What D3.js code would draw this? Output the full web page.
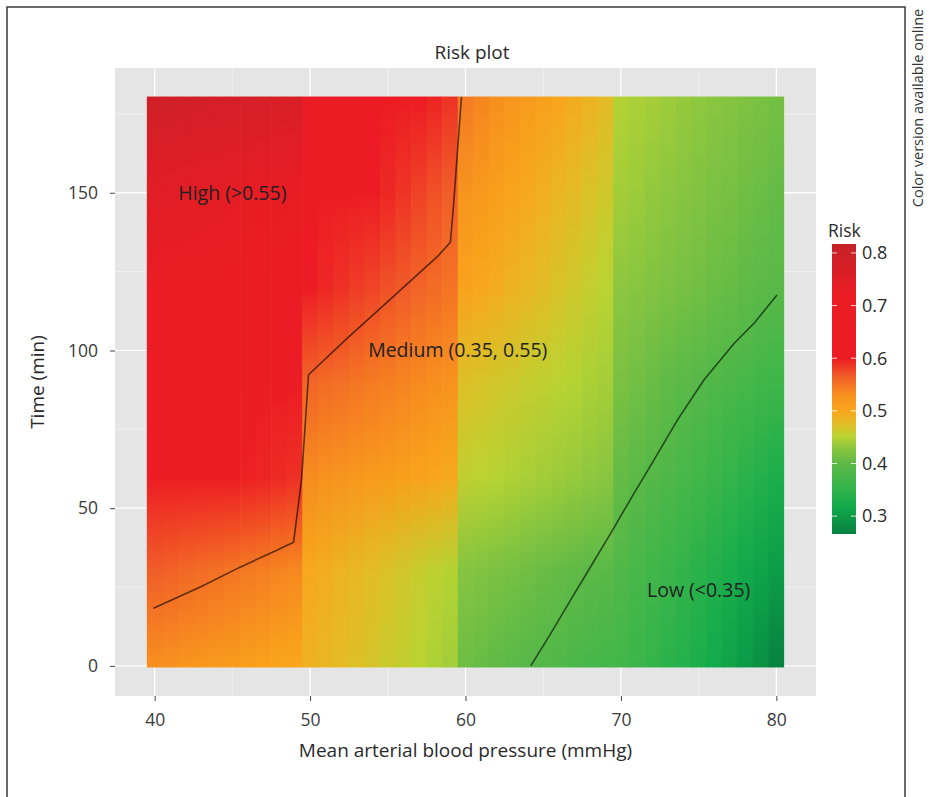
<!DOCTYPE html>
<html>
<head>
<meta charset="utf-8">
<script src="https://cdn.jsdelivr.net/npm/d3@7"></script>
<style>
  body { margin: 0; background: #fff; }
  svg text { font-family: "Open Sans", sans-serif; }
</style>
</head>
<body>
<div id="chart"></div>
<script>
// mean arterial pressure grid (mmHg), one tile column each
let mapValues = [40, 41, 42, 43, 44, 45, 46, 47, 48, 49,
  50, 51, 52, 53, 54, 55, 56, 57, 58, 59,
  60, 61, 62, 63, 64, 65, 66, 67, 68, 69,
  70, 71, 72, 73, 74, 75, 76, 77, 78, 79, 80];
let timeKnots = [0, 30, 60, 90, 120, 150, 180];

// risk per column, one array per time
let riskT0 = [.530, .527, .523, .520, .517, .513, .510, .507, .503, .500,
  .488, .483, .477, .472, .467, .461, .456, .451, .445, .440,
  .410, .406, .402, .397, .393, .389, .385, .380, .376, .372,
  .370, .362, .354, .346, .338, .330, .320, .310, .298, .285, .270];
let riskT30 = [.565, .562, .558, .555, .552, .548, .545, .542, .538, .535,
  .497, .492, .486, .481, .475, .470, .464, .459, .453, .448,
  .425, .422, .418, .415, .412, .408, .405, .402, .398, .395,
  .385, .377, .369, .361, .353, .345, .336, .327, .318, .309, .300];
let riskT60 = [.615, .612, .609, .607, .604, .601, .598, .596, .593, .590,
  .533, .529, .525, .521, .517, .513, .509, .505, .501, .497,
  .455, .452, .449, .446, .443, .440, .437, .434, .431, .428,
  .405, .398, .391, .384, .377, .370, .362, .354, .346, .338, .330];
let riskT90 = [.660, .657, .654, .652, .649, .646, .643, .641, .638, .635,
  .560, .556, .553, .549, .545, .542, .538, .534, .531, .527,
  .472, .469, .465, .462, .458, .455, .451, .448, .444, .441,
  .418, .413, .408, .402, .397, .392, .386, .381, .376, .370, .365];
let riskT120 = [.700, .698, .696, .693, .691, .689, .687, .684, .682, .680,
  .600, .594, .589, .583, .578, .572, .567, .561, .556, .550,
  .505, .499, .493, .487, .481, .475, .469, .463, .457, .451,
  .430, .427, .423, .420, .416, .413, .409, .406, .402, .399, .395];
let riskT150 = [.745, .743, .741, .738, .736, .734, .732, .729, .727, .725,
  .630, .623, .616, .608, .601, .594, .587, .580, .572, .565,
  .525, .518, .511, .504, .497, .490, .483, .477, .470, .463,
  .440, .437, .433, .430, .426, .423, .419, .416, .412, .409, .405];
let riskT180 = [.790, .788, .786, .783, .781, .779, .777, .774, .772, .770,
  .660, .652, .644, .636, .628, .620, .612, .604, .596, .588,
  .545, .538, .530, .523, .515, .508, .501, .493, .486, .478,
  .447, .444, .441, .438, .434, .431, .428, .425, .421, .418, .415];

// contour lines
let contour055Map = [39.92, 42.97, 45.5, 47.65, 48.94, 49.45, 49.9, 52.4, 55.6, 58.2, 59.03, 59.24, 59.74];
let contour055Time = [18.3, 25.1, 31.3, 36.2, 39.2, 59, 92.3, 103.9, 118.2, 129.8, 134.3, 146.7, 180.4];
let contour035Map = [64.2, 65.5, 66.77, 68.06, 69.35, 70.85, 72.13, 73.64, 75.35, 77.29, 78.58, 80.04];
let contour035Time = [0, 10.4, 20.9, 31.5, 42.1, 54.8, 65.3, 78, 90.7, 102.3, 108.7, 117.6];

// region annotations
let regionLabels = ["High (>0.55)", "Medium (0.35, 0.55)", "Low (<0.35)"];
let regionMap = [45, 59.5, 75];
let regionTime = [150, 100, 24];

let xTicks = [40, 50, 60, 70, 80];
let yTicks = [0, 50, 100, 150];
let legendTicks = [0.3, 0.4, 0.5, 0.6, 0.7, 0.8];

let riskRows = [riskT0, riskT30, riskT60, riskT90, riskT120, riskT150, riskT180];

let svg = d3.select("#chart").append("svg")
    .attr("width", 934)
    .attr("height", 797);

// outer frame of the figure
svg.append("rect")
    .attr("x", 7).attr("y", 7)
    .attr("width", 898).attr("height", 820)
    .attr("fill", "none")
    .attr("stroke", "#3a3a3a")
    .attr("stroke-width", 1.5);

svg.append("text")
    .attr("transform", "translate(923,108) rotate(-90)")
    .attr("text-anchor", "middle")
    .attr("font-size", 14.5)
    .attr("fill", "#333")
    .text("Color version available online");

// scales
let x = d3.scaleLinear().domain([37.45, 82.55]).range([115, 816]);
let y = d3.scaleLinear().domain([-9.55, 189.55]).range([696, 68]);

let colour = d3.scaleLinear()
    .domain([0.266, 0.29, 0.32, 0.36, 0.40, 0.43, 0.45, 0.475, 0.50, 0.53, 0.565, 0.60, 0.72, 0.817])
    .range(["#067F3F", "#0B9446", "#12AB4B", "#39B54A", "#5DB947", "#8DC63F", "#B8D432",
            "#E2BD27", "#F9A61B", "#F7901E", "#F15E28", "#ED1C24", "#EB1C24", "#C62128"])
    .clamp(true);

// panel background + grid
svg.append("rect")
    .attr("x", x.range()[0]).attr("y", y.range()[1])
    .attr("width", x.range()[1] - x.range()[0])
    .attr("height", y.range()[0] - y.range()[1])
    .attr("fill", "#E5E5E5");

let grid = svg.append("g");
[45, 55, 65, 75].forEach(v => grid.append("line")
    .attr("x1", x(v)).attr("x2", x(v)).attr("y1", y.range()[1]).attr("y2", y.range()[0])
    .attr("stroke", "#F2F2F2").attr("stroke-width", 0.8));
[25, 75, 125, 175].forEach(v => grid.append("line")
    .attr("y1", y(v)).attr("y2", y(v)).attr("x1", x.range()[0]).attr("x2", x.range()[1])
    .attr("stroke", "#F2F2F2").attr("stroke-width", 0.8));
xTicks.forEach(v => grid.append("line")
    .attr("x1", x(v)).attr("x2", x(v)).attr("y1", y.range()[1]).attr("y2", y.range()[0])
    .attr("stroke", "#fff").attr("stroke-width", 1.3));
yTicks.forEach(v => grid.append("line")
    .attr("y1", y(v)).attr("y2", y(v)).attr("x1", x.range()[0]).attr("x2", x.range()[1])
    .attr("stroke", "#fff").attr("stroke-width", 1.3));

// one vertical gradient per MAP column
let defs = svg.append("defs");
mapValues.forEach((m, i) => {
  let g = defs.append("linearGradient")
      .attr("id", "col" + i)
      .attr("gradientUnits", "userSpaceOnUse")
      .attr("x1", 0).attr("x2", 0)
      .attr("y1", y(timeKnots[0])).attr("y2", y(timeKnots[timeKnots.length - 1]));
  timeKnots.forEach((t, k) => {
    g.append("stop")
        .attr("offset", t / timeKnots[timeKnots.length - 1])
        .attr("stop-color", colour(riskRows[k][i]));
  });
});

svg.append("g").selectAll("rect")
    .data(mapValues)
    .enter()
      .append("rect")
      .attr("x", d => x(d - 0.5))
      .attr("width", (d, i) => x(d + 0.5) - x(d - 0.5) + (i < mapValues.length - 1 ? 0.6 : 0))
      .attr("y", y(180.5))
      .attr("height", y(-0.5) - y(180.5))
      .attr("fill", (d, i) => "url(#col" + i + ")");

// contours
let line = d3.line()
    .x(d => x(d[0]))
    .y(d => y(d[1]));

[[contour055Map, contour055Time], [contour035Map, contour035Time]].forEach(c => {
  svg.append("path")
      .datum(c[0].map((m, i) => [m, c[1][i]]))
      .attr("fill", "none")
      .attr("stroke", "#000")
      .attr("stroke-opacity", 0.6)
      .attr("stroke-width", 1.6)
      .attr("d", line);
});

// region labels
svg.append("g").selectAll("text")
    .data(regionLabels)
    .enter()
      .append("text")
      .attr("x", (d, i) => x(regionMap[i]))
      .attr("y", (d, i) => y(regionTime[i]))
      .attr("dy", "0.35em")
      .attr("text-anchor", "middle")
      .attr("font-size", 19.5)
      .attr("fill", "#222")
      .text(d => d);

// axes
let xAxis = svg.append("g")
    .attr("transform", "translate(0," + y.range()[0] + ")")
    .call(d3.axisBottom(x).tickValues(xTicks).tickSize(5).tickPadding(13));
let yAxis = svg.append("g")
    .attr("transform", "translate(" + x.range()[0] + ",0)")
    .call(d3.axisLeft(y).tickValues(yTicks).tickSize(5).tickPadding(12));
[xAxis, yAxis].forEach(a => {
  a.select(".domain").remove();
  a.selectAll("line").attr("stroke", "#444");
  a.selectAll("text").attr("font-size", 17.5).attr("fill", "#3a3a3a").attr("font-family", "Open Sans, sans-serif");
});

svg.append("text")
    .attr("x", (x.range()[0] + x.range()[1]) / 2)
    .attr("y", 757)
    .attr("text-anchor", "middle")
    .attr("font-size", 19)
    .attr("fill", "#2a2a2a")
    .text("Mean arterial blood pressure (mmHg)");

svg.append("text")
    .attr("transform", "translate(44," + (y.range()[0] + y.range()[1]) / 2 + ") rotate(-90)")
    .attr("text-anchor", "middle")
    .attr("font-size", 19)
    .attr("fill", "#2a2a2a")
    .text("Time (min)");

svg.append("text")
    .attr("x", 472)
    .attr("y", 59)
    .attr("text-anchor", "middle")
    .attr("font-size", 19)
    .attr("fill", "#2a2a2a")
    .text("Risk plot");

// legend colour bar
let ly = d3.scaleLinear().domain([0.266, 0.817]).range([534, 244]);
let lg = defs.append("linearGradient")
    .attr("id", "legendGrad")
    .attr("x1", 0).attr("x2", 0).attr("y1", 1).attr("y2", 0);
colour.domain().forEach(v => {
  lg.append("stop")
      .attr("offset", (v - 0.266) / (0.817 - 0.266))
      .attr("stop-color", colour(v));
});

let legend = svg.append("g");
legend.append("text")
    .attr("x", 828).attr("y", 237)
    .attr("font-size", 17.5)
    .attr("fill", "#2a2a2a")
    .text("Risk");
legend.append("rect")
    .attr("x", 832).attr("y", ly(0.817))
    .attr("width", 24).attr("height", ly(0.266) - ly(0.817))
    .attr("fill", "url(#legendGrad)");
legendTicks.forEach(v => {
  legend.append("line")
      .attr("x1", 832).attr("x2", 837).attr("y1", ly(v)).attr("y2", ly(v))
      .attr("stroke", "#fff").attr("stroke-opacity", 0.8);
  legend.append("line")
      .attr("x1", 851).attr("x2", 856).attr("y1", ly(v)).attr("y2", ly(v))
      .attr("stroke", "#fff").attr("stroke-opacity", 0.8);
  legend.append("text")
      .attr("x", 862).attr("y", ly(v))
      .attr("dy", "0.35em")
      .attr("font-size", 18)
      .attr("fill", "#2a2a2a")
      .text(v.toFixed(1));
});
</script>
</body>
</html>
